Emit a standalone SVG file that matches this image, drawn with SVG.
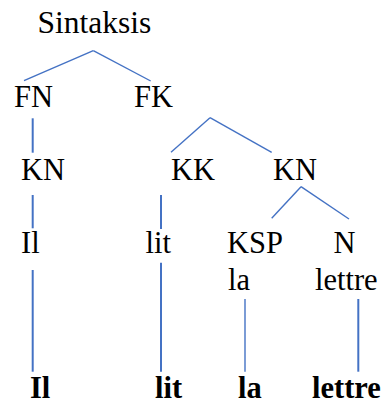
<svg xmlns="http://www.w3.org/2000/svg" width="386" height="406" viewBox="0 0 386 406" font-family="Liberation Serif, serif">
<style>
text{font-size:30.5px;fill:#000}
.b{font-weight:bold}
.e{stroke:#4472C4;stroke-width:1.4;fill:none}
.v{stroke:#4472C4;stroke-width:2;fill:none}
</style>
<rect width="386" height="406" fill="#fff"/>
<g id="connectors">
<line class="e" x1="93.3" y1="50.7" x2="24" y2="80.7"/>
<line class="e" x1="93.3" y1="50.7" x2="150.7" y2="81"/>
<line class="v" x1="32.7" y1="118.3" x2="32.7" y2="152.7"/>
<line class="e" x1="210" y1="117.7" x2="171" y2="152.3"/>
<line class="e" x1="210" y1="117.7" x2="271.7" y2="152.3"/>
<line class="v" x1="32.7" y1="195" x2="32.7" y2="228.3"/>
<line class="v" x1="161" y1="195" x2="161" y2="229"/>
<line class="e" x1="301" y1="186.7" x2="271.7" y2="218.3"/>
<line class="e" x1="301" y1="186.7" x2="349" y2="219"/>
<line class="v" x1="32.7" y1="270" x2="32.7" y2="371.7"/>
<line class="v" x1="161" y1="262.7" x2="161" y2="371.7"/>
<line class="e" x1="245" y1="299" x2="245" y2="371.7"/>
<line class="v" x1="358.3" y1="299" x2="358.3" y2="371.7"/>
</g>
<g id="sintaksis"><text x="37.5" y="33" style="font-size:31.5px">Sintaksis</text></g>
<g id="fn"><text x="14" y="107">FN</text></g>
<g id="fk"><text x="134" y="107">FK</text></g>
<g id="kn1"><text x="21" y="180">KN</text></g>
<g id="kk"><text x="171" y="180">KK</text></g>
<g id="kn2"><text x="273" y="180">KN</text></g>
<g id="il"><text x="21" y="253">Il</text></g>
<g id="lit"><text x="145.5" y="253">lit</text></g>
<g id="ksp"><text x="227" y="253">KSP</text><text x="228" y="290">la</text></g>
<g id="n"><text x="333.5" y="253">N</text><text x="315" y="290">lettre</text></g>
<g id="il-b"><text class="b" x="30" y="398">Il</text></g>
<g id="lit-b"><text class="b" x="155" y="398">lit</text></g>
<g id="la-b"><text class="b" x="238" y="398">la</text></g>
<g id="lettre-b"><text class="b" x="312" y="398">lettre</text></g>
</svg>
